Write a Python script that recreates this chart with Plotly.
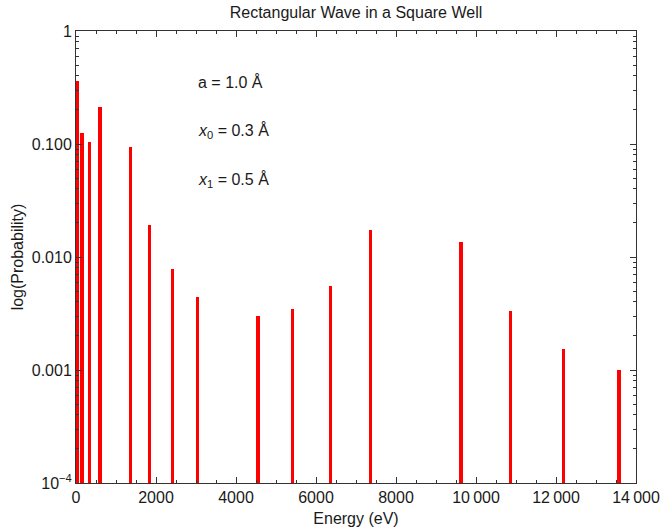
import plotly.graph_objects as go

# Energy levels (eV) and occupation probabilities of each stationary state
energy = [38, 150, 338, 602, 1354, 1843, 2407, 3046, 4550, 5415, 6355, 7370,
          9627, 10868, 12184, 13575]
probability = [0.36, 0.125, 0.104, 0.212, 0.094, 0.0192, 0.0078, 0.0044,
               0.0030, 0.0035, 0.0055, 0.0173, 0.0136, 0.0033, 0.00153, 0.00100]

y_tickvals = [1e-4, 1e-3, 1e-2, 1e-1, 1]
y_ticktext = ["10<sup>\u22124</sup>", "0.001", "0.010", "0.100", "1"]
x_tickvals = [0, 2000, 4000, 6000, 8000, 10000, 12000, 14000]
x_ticktext = ["0", "2000", "4000", "6000", "8000", "10\u2009000", "12\u2009000", "14\u2009000"]

y_minor = [m * 10 ** e for e in range(-4, 0) for m in range(2, 10)]
x_minor = [v for v in range(0, 14001, 500) if v % 2000]

FONT = "Liberation Sans, Arial, Helvetica"
INK = "#1a1a1a"

fig = go.Figure()
fig.add_trace(go.Bar(
    x=energy, y=probability, width=80,
    marker=dict(color="#ff0000", line=dict(width=0)),
))

axis_common = dict(
    showline=True, linecolor="#333333", linewidth=1, mirror="allticks",
    ticks="inside", ticklen=6, tickwidth=1, tickcolor="#333333",
    showgrid=False, zeroline=False, automargin=False,
    tickfont=dict(family=FONT, size=16, color=INK),
)

fig.update_layout(
    width=667, height=532,
    margin=dict(l=76, r=31, t=31, b=49),
    paper_bgcolor="white", plot_bgcolor="white",
    showlegend=False,
    title=dict(text="Rectangular Wave in a Square Well", x=0.5, xref="paper",
               y=1 - 12 / 532, yref="container", xanchor="center", yanchor="middle",
               automargin=False,
               font=dict(family=FONT, size=16, color=INK)),
    xaxis=dict(
        range=[0, 14000], tickmode="array", tickvals=x_tickvals, ticktext=x_ticktext,
        minor=dict(tickmode="array", tickvals=x_minor, ticks="inside", ticklen=3,
                   tickcolor="#333333", showgrid=False),
        title=dict(text="Energy (eV)", standoff=7,
                   font=dict(family=FONT, size=16, color=INK)),
        **axis_common,
    ),
    yaxis=dict(
        type="log", range=[-4, 0], tickmode="array", tickvals=y_tickvals, ticktext=y_ticktext,
        minor=dict(tickmode="array", tickvals=y_minor, ticks="inside", ticklen=3,
                   tickcolor="#333333", showgrid=False),
        title=dict(text="log(Probability)", standoff=4,
                   font=dict(family=FONT, size=16, color=INK)),
        **axis_common,
    ),
    bargap=0,
)

notes = ["a = 1.0 \u00c5", "<i>x</i><sub>0</sub> = 0.3 \u00c5", "<i>x</i><sub>1</sub> = 0.5 \u00c5"]
note_y = [0.888, 0.778, 0.670]
for text, yy in zip(notes, note_y):
    fig.add_annotation(text=text, x=0.214, y=yy, xref="paper", yref="paper",
                       xanchor="left", yanchor="middle", showarrow=False,
                       font=dict(family=FONT, size=16, color=INK))

fig.write_html("out.html")
